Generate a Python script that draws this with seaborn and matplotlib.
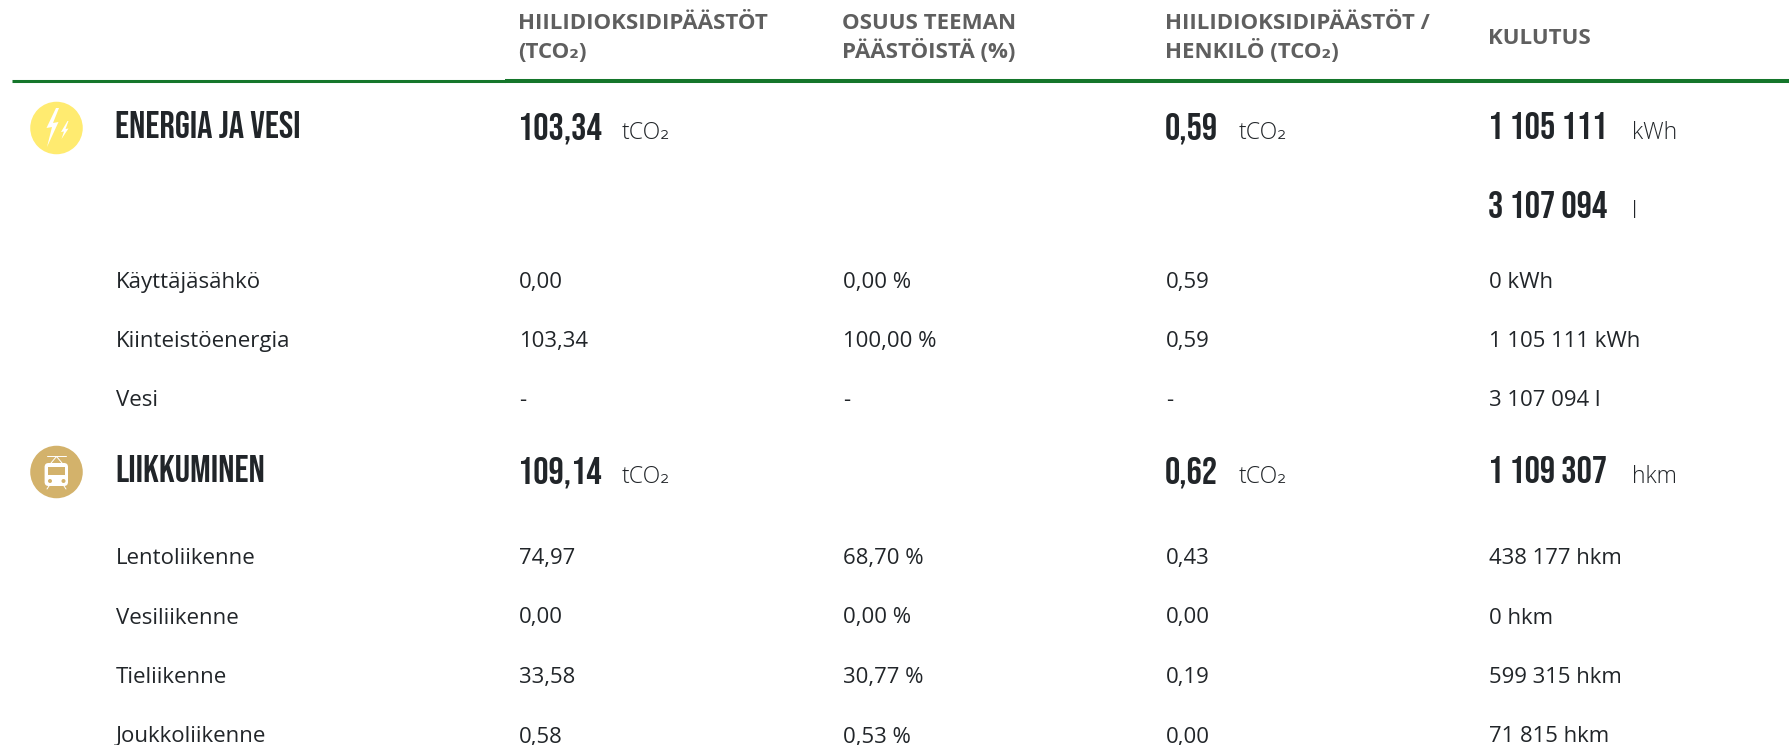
import matplotlib
matplotlib.use('Agg')
import matplotlib.pyplot as plt
import pandas as pd
import seaborn as sns
from matplotlib.patches import Polygon, Rectangle, FancyBboxPatch, Circle

# table content
headers_1 = ['HIILIDIOKSIDIPÄÄSTÖT', 'OSUUS TEEMAN', 'HIILIDIOKSIDIPÄÄSTÖT /']
headers_2 = ['(TCO₂)', 'PÄÄSTÖISTÄ (%)', 'HENKILÖ (TCO₂)']
header_last = 'KULUTUS'

themes = ['ENERGIA JA VESI', 'LIIKKUMINEN']
theme_co2 = ['103,34', '109,14']
theme_person = ['0,59', '0,62']
theme_use = ['1 105 111', '1 109 307']
theme_unit = ['kWh', 'hkm']
extra_use = '3 107 094'
extra_unit = 'l'

rows = ['Käyttäjäsähkö', 'Kiinteistöenergia', 'Vesi', 'Lentoliikenne', 'Vesiliikenne', 'Tieliikenne', 'Joukkoliikenne']
co2 = ['0,00', '103,34', '-', '74,97', '0,00', '33,58', '0,58']
share = ['0,00 %', '100,00 %', '-', '68,70 %', '0,00 %', '30,77 %', '0,53 %']
person = ['0,59', '0,59', '-', '0,43', '0,00', '0,19', '0,00']
use = ['0 kWh', '1 105 111 kWh', '3 107 094 l', '438 177 hkm', '0 hkm', '599 315 hkm', '71 815 hkm']

# layout in pixels
col_x = [519, 843, 1166, 1489]
label_x = 116
row_y = [288, 347, 406, 564, 623.5, 683, 742.5]

sns.set_theme(style='white')
plt.rcParams['font.family'] = ['Open Sans', 'DejaVu Sans']
BODY = '#212529'
HEAD = '#5f5f5f'
GREEN = '#15762b'
TAN = '#d3b26b'
BIG = ['Bebas Neue', 'Liberation Sans']
BIG_SIZE = 27.5
UNIT_SIZE = 16.6

fig, ax = plt.subplots(figsize=(17.9, 7.45), dpi=100)
ax.set_position([0, 0, 1, 1])
ax.set_xlim(0, 1790)
ax.set_ylim(745, 0)
ax.axis('off')

# header
for x, a, b in zip(col_x, headers_1, headers_2):
    ax.text(x - 0.5, 29, a, fontsize=16.05, fontweight='bold', color=HEAD, va='baseline')
    ax.text(x - 0.5, 58.5, b, fontsize=16.05, fontweight='bold', color=HEAD, va='baseline')
ax.text(col_x[3] - 0.5, 44, header_last, fontsize=16.05, fontweight='bold', color=HEAD, va='baseline')
ax.plot([12, 505], [80.5, 80.5], color=GREEN, lw=2.2, solid_capstyle='butt')
ax.plot([505, 1790], [81, 81], color=GREEN, lw=2.9, solid_capstyle='butt')

# icons
icons = pd.DataFrame({'x': [56.5, 56.5], 'y': [128, 472], 'theme': themes})
sns.scatterplot(data=icons, x='x', y='y', hue='theme', palette=['#ffeb70', TAN],
                s=1430, linewidth=0, legend=False, ax=ax, clip_on=False)
ax.set_xlabel('')
ax.set_ylabel('')
ax.add_patch(Polygon([(56, 108), (46.5, 128), (52, 127), (47, 147), (58.5, 122), (53, 123), (59, 108)], color='white', lw=0))
ax.add_patch(Polygon([(67.5, 121), (61, 132), (64, 131.5), (61.5, 139), (68.5, 128.5), (65.5, 129), (68.5, 121)], color='white', lw=0))
ax.add_patch(FancyBboxPatch((44.6, 463), 23.4, 23, boxstyle='round,pad=0,rounding_size=4', color='white', lw=0))
ax.add_patch(Rectangle((48, 467), 17.5, 8, color=TAN, lw=0))
ax.add_patch(Circle((50, 481), 2, color=TAN, lw=0))
ax.add_patch(Circle((63.5, 481), 2, color=TAN, lw=0))
ax.plot([51, 56.5, 62], [463, 456.5, 463], color='white', lw=0.7)
ax.plot([47, 66], [456, 456], color='white', lw=0.7)
ax.plot([47, 49], [489, 486], color='white', lw=0.7)
ax.plot([66, 64], [489, 486], color='white', lw=0.7)

# theme rows
theme_base = [139, 483]
for i in range(2):
    y = theme_base[i]
    ax.text(label_x - 1, y - 1, themes[i], fontsize=BIG_SIZE, color=BODY, family=BIG, va='baseline')
    ax.text(col_x[0] - 1, y, theme_co2[i], fontsize=BIG_SIZE, color=BODY, family=BIG, va='baseline')
    ax.text(622, y, 'tCO₂', fontsize=UNIT_SIZE, fontweight='light', color=BODY, va='baseline')
    ax.text(col_x[2] - 1, y, theme_person[i], fontsize=BIG_SIZE, color=BODY, family=BIG, va='baseline')
    ax.text(1239, y, 'tCO₂', fontsize=UNIT_SIZE, fontweight='light', color=BODY, va='baseline')
    ax.text(col_x[3] - 1, y, theme_use[i], fontsize=BIG_SIZE, color=BODY, family=BIG, va='baseline')
    ax.text(1632, y, theme_unit[i], fontsize=UNIT_SIZE, fontweight='light', color=BODY, va='baseline')
ax.text(col_x[3] - 1, 217.5, extra_use, fontsize=BIG_SIZE, color=BODY, family=BIG, va='baseline')
ax.text(1632, 217.5, extra_unit, fontsize=UNIT_SIZE, fontweight='light', color=BODY, va='baseline')

# detail rows
for y, name, a, b, c, d in zip(row_y, rows, co2, share, person, use):
    ax.text(label_x, y, name, fontsize=16, color=BODY, va='baseline')
    for x, val in zip(col_x, [a, b, c, d]):
        ax.text(x, y, val, fontsize=15.95, color=BODY, va='baseline')

fig.savefig('out.png', dpi=100)
